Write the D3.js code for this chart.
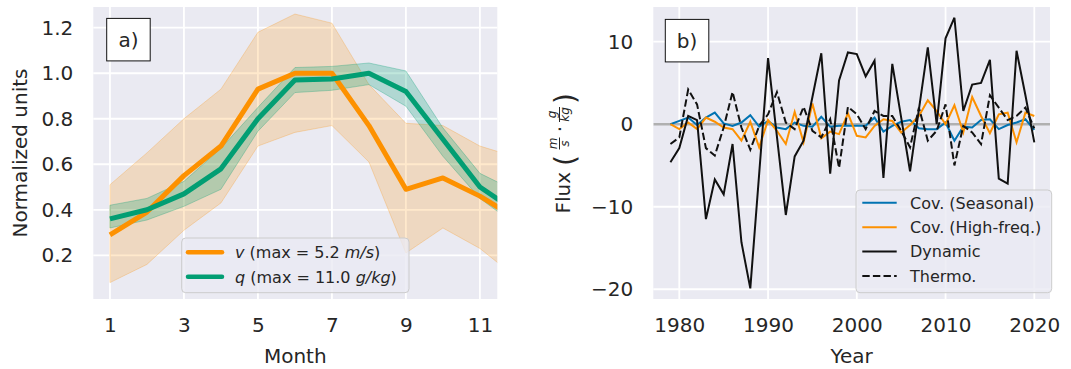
<!DOCTYPE html>
<html>
<head>
<meta charset="utf-8">
<script src="https://cdn.jsdelivr.net/npm/d3@7"></script>
<style>
  body { margin: 0; background: white; }
  text { font-family: "DejaVu Sans", sans-serif; fill: #262626; }
</style>
</head>
<body>
<svg id="chart" width="1071" height="369"></svg>
<script>
// ---- panel a data (normalized seasonal cycle)
var months = [1, 2, 3, 4, 5, 6, 7, 8, 9, 10, 11, 12];
var vMean = [0.29, 0.39, 0.55, 0.68, 0.93, 1.00, 1.00, 0.77, 0.49, 0.54, 0.46, 0.36];
var vLow  = [0.08, 0.16, 0.31, 0.43, 0.68, 0.74, 0.77, 0.61, 0.21, 0.32, 0.23, 0.10];
var vHigh = [0.51, 0.65, 0.80, 0.93, 1.18, 1.26, 1.22, 0.95, 0.78, 0.77, 0.68, 0.63];
var qMean = [0.36, 0.40, 0.47, 0.58, 0.80, 0.97, 0.975, 1.00, 0.92, 0.71, 0.50, 0.39];
var qLow  = [0.32, 0.355, 0.415, 0.49, 0.745, 0.915, 0.925, 0.95, 0.855, 0.635, 0.45, 0.33];
var qHigh = [0.42, 0.45, 0.525, 0.67, 0.85, 1.025, 1.03, 1.045, 1.01, 0.76, 0.56, 0.48];
var monthTicks = [1, 3, 5, 7, 9, 11];
var normTicks = [0.2, 0.4, 0.6, 0.8, 1.0, 1.2];

// ---- panel b data (yearly flux terms)
var years = d3.range(1979, 2021);
var seasonal = [0, 0.4, 0.8, -0.1, 0.8, 1.4, 0.1, -0.2, 0.2, 1.1,
  -0.3, 0.4, -0.4, -0.6, 0.2, -0.2, -0.3, 0.9, -0.3, -0.2,
  -0.2, -0.2, -0.2, 0.8, -0.9, -0.2, 0.3, 0.5, -0.5, -0.6,
  -0.6, 0.2, -2.0, -0.3, -0.4, 0.5, 0.6, -0.6, -0.1, 0.2, 0.6, -0.7];
var highFreq = [0, -0.6, 0.2, -0.6, 0.8, 0.3, -0.4, -0.6, -2.0, 0.3,
  -2.8, 0.5, -0.8, -2.4, 1.5, -2.2, 2.5, -1.7, -0.9, -1.2,
  1.3, -1.4, -1.6, -0.2, 0.6, 0.4, -1.0, -0.1, 1.0, 2.9,
  1.6, 0.0, 2.3, -1.0, 3.3, 1.0, -1.1, 1.2, 1.4, -2.2, 1.4, 1.0];
var dynamic = [-4.6, -2.9, 1.0, 0.5, -11.5, -6.7, -8.5, -2.4, -14.3, -19.9,
  -6.0, 8.0, -1.5, -11.0, -3.9, -2.0, 3.3, 8.6, -6.0, 5.3,
  8.7, 8.5, 5.8, 7.7, -6.5, 7.3, 0.8, -5.7, 1.8, 9.3,
  0.0, 10.4, 12.9, 1.6, 4.8, 5.0, 7.8, -6.6, -7.2, 8.9, 3.5, -2.2];
var thermo = [-2.4, -1.6, 4.2, 2.4, -2.9, -3.8, -0.4, 3.9, -0.4, -3.1,
  -0.2, 1.2, 3.9, 0.2, -0.6, 2.1, -0.8, -1.6, 0.6, -5.3,
  2.1, 1.2, -0.6, 1.6, 1.0, 1.0, -0.8, -2.8, 2.0, -2.0,
  -0.8, 2.4, -5.0, -0.2, -1.0, -2.4, 3.5, 2.0, 0.5, 1.0, 2.0, -0.5];
var yearTicks = [1980, 1990, 2000, 2010, 2020];
var fluxTicks = [-20, -10, 0, 10];

var orange = "#fd9100", green = "#029e73", blue = "#0173b2";
var bg = "#eaeaf2";

var svg = d3.select("#chart");

// panel boxes
var boxA = {x0: 93.3, x1: 497.3, y0: 7, y1: 299};
var boxB = {x0: 653.3, x1: 1050, y0: 7, y1: 299};

var xA = d3.scaleLinear().domain([0.55, 11.47]).range([boxA.x0, boxA.x1]);
var yA = d3.scaleLinear().domain([0.008, 1.291]).range([boxA.y1, boxA.y0]);
var xB = d3.scaleLinear().domain([1977.07, 2021.77]).range([boxB.x0, boxB.x1]);
var yB = d3.scaleLinear().domain([-21.18, 14.2]).range([boxB.y1, boxB.y0]);

// background + grid for a panel
function drawFrame(box, xs, ys, xt, yt, id) {
  svg.append("rect")
    .attr("x", box.x0).attr("y", box.y0)
    .attr("width", box.x1 - box.x0).attr("height", box.y1 - box.y0)
    .style("fill", bg);
  svg.append("clipPath").attr("id", id)
    .append("rect")
    .attr("x", box.x0).attr("y", box.y0)
    .attr("width", box.x1 - box.x0).attr("height", box.y1 - box.y0);
  var grid = svg.append("g");
  grid.selectAll("line.vx").data(xt).enter().append("line")
    .attr("x1", d => xs(d)).attr("x2", d => xs(d))
    .attr("y1", box.y0).attr("y2", box.y1)
    .style("stroke", "white").style("stroke-width", 1.8);
  grid.selectAll("line.hy").data(yt).enter().append("line")
    .attr("y1", d => ys(d)).attr("y2", d => ys(d))
    .attr("x1", box.x0).attr("x2", box.x1)
    .style("stroke", "white").style("stroke-width", 1.8);
}

function drawAxes(box, xs, ys, xt, yt, yfmt) {
  var gx = svg.append("g")
    .attr("transform", "translate(0," + box.y1 + ")")
    .call(d3.axisBottom(xs).tickValues(xt).tickSize(0).tickPadding(19).tickFormat(d3.format("d")));
  var gy = svg.append("g")
    .attr("transform", "translate(" + box.x0 + ",0)")
    .call(d3.axisLeft(ys).tickValues(yt).tickSize(0).tickPadding(20).tickFormat(yfmt));
  [gx, gy].forEach(function(g) {
    g.select(".domain").remove();
    g.selectAll("text")
      .attr("font-family", "DejaVu Sans")
      .attr("font-size", "20px")
      .attr("fill", "#262626");
  });
}

function panelTag(x, y, label) {
  svg.append("rect")
    .attr("x", x).attr("y", y).attr("width", 43.5).attr("height", 42.5)
    .style("fill", "white").style("stroke", "#111").style("stroke-width", 1);
  svg.append("text")
    .attr("x", x + 21.75).attr("y", y + 28.5)
    .attr("text-anchor", "middle")
    .attr("font-size", "20px")
    .text(label);
}

// ================= panel a =================
drawFrame(boxA, xA, yA, monthTicks, normTicks, "clipA");

var plotA = svg.append("g").attr("clip-path", "url(#clipA)");

var band = function(lo, hi) {
  return d3.area()
    .x((d, i) => xA(months[i]))
    .y0((d, i) => yA(lo[i]))
    .y1((d, i) => yA(hi[i]));
};
var lineA = function(vals) {
  return d3.line().x((d, i) => xA(months[i])).y((d, i) => yA(vals[i]));
};

plotA.append("path").datum(months)
  .attr("d", band(vLow, vHigh))
  .style("fill", orange).style("fill-opacity", 0.2)
  .style("stroke", orange).style("stroke-opacity", 0.25).style("stroke-width", 1);
plotA.append("path").datum(months)
  .attr("d", band(qLow, qHigh))
  .style("fill", green).style("fill-opacity", 0.25)
  .style("stroke", green).style("stroke-opacity", 0.3).style("stroke-width", 1);

plotA.append("path").datum(months)
  .attr("d", lineA(vMean))
  .style("fill", "none").style("stroke", orange).style("stroke-width", 5)
  .style("stroke-linejoin", "round").style("stroke-linecap", "butt");
plotA.append("path").datum(months)
  .attr("d", lineA(qMean))
  .style("fill", "none").style("stroke", green).style("stroke-width", 5)
  .style("stroke-linejoin", "round").style("stroke-linecap", "butt");

drawAxes(boxA, xA, yA, monthTicks, normTicks, d3.format(".1f"));
panelTag(106.7, 18.4, "a)");

// legend a
var legA = svg.append("g");
legA.append("rect")
  .attr("x", 181.7).attr("y", 238).attr("width", 227.3).attr("height", 54.7)
  .attr("rx", 4)
  .style("fill", bg).style("fill-opacity", 0.8)
  .style("stroke", "#cccccc").style("stroke-width", 1);
var legAItems = [
  {c: orange, y: 252.3, parts: [["v", true], [" (max = 5.2 ", false], ["m/s", true], [")", false]]},
  {c: green, y: 276.7, parts: [["q", true], [" (max = 11.0 ", false], ["g/kg", true], [")", false]]}
];
legAItems.forEach(function(it) {
  legA.append("line")
    .attr("x1", 188).attr("x2", 222).attr("y1", it.y).attr("y2", it.y)
    .style("stroke", it.c).style("stroke-width", 4.5).style("stroke-linecap", "round");
  var t = legA.append("text").attr("x", 235).attr("y", it.y + 5.8).attr("font-size", "16px");
  it.parts.forEach(function(p) {
    t.append("tspan").text(p[0]).attr("font-style", p[1] ? "italic" : "normal");
  });
});

// axis labels a
svg.append("text")
  .attr("x", xA((0.55 + 11.47) / 2)).attr("y", 363)
  .attr("text-anchor", "middle").attr("font-size", "20px")
  .text("Month");
svg.append("text")
  .attr("transform", "translate(27," + ((boxA.y0 + boxA.y1) / 2) + ") rotate(-90)")
  .attr("text-anchor", "middle").attr("font-size", "20px")
  .text("Normalized units");

// ================= panel b =================
drawFrame(boxB, xB, yB, yearTicks, fluxTicks, "clipB");

var plotB = svg.append("g").attr("clip-path", "url(#clipB)");

plotB.append("line")
  .attr("x1", boxB.x0).attr("x2", boxB.x1)
  .attr("y1", yB(0)).attr("y2", yB(0))
  .style("stroke", "#b0b0b0").style("stroke-width", 2.5);

var series = [
  {name: "Cov. (Seasonal)", vals: seasonal, c: blue, dash: null},
  {name: "Cov. (High-freq.)", vals: highFreq, c: orange, dash: null},
  {name: "Dynamic", vals: dynamic, c: "#111111", dash: null},
  {name: "Thermo.", vals: thermo, c: "#111111", dash: "7.4,3.2"}
];

series.forEach(function(s) {
  plotB.append("path").datum(years)
    .attr("d", d3.line().x((d, i) => xB(years[i])).y((d, i) => yB(s.vals[i])))
    .style("fill", "none").style("stroke", s.c).style("stroke-width", 2)
    .style("stroke-dasharray", s.dash)
    .style("stroke-linejoin", "miter");
});

drawAxes(boxB, xB, yB, yearTicks, fluxTicks, d3.format("d"));
panelTag(665.3, 19.4, "b)");

// legend b
var legB = svg.append("g");
legB.append("rect")
  .attr("x", 856).attr("y", 190).attr("width", 195.7).attr("height", 102.7)
  .attr("rx", 4)
  .style("fill", bg).style("fill-opacity", 0.8)
  .style("stroke", "#cccccc").style("stroke-width", 1);
legB.selectAll("line").data(series).enter().append("line")
  .attr("x1", 862.3).attr("x2", 896.7)
  .attr("y1", (d, i) => 202.8 + i * 24.4).attr("y2", (d, i) => 202.8 + i * 24.4)
  .style("stroke", d => d.c).style("stroke-width", 2)
  .style("stroke-dasharray", d => d.dash);
legB.selectAll("text").data(series).enter().append("text")
  .attr("x", 910).attr("y", (d, i) => 202.8 + i * 24.4 + 5.8)
  .attr("font-size", "16px")
  .text(d => d.name);

// axis labels b
svg.append("text")
  .attr("x", (boxB.x0 + boxB.x1) / 2).attr("y", 363)
  .attr("text-anchor", "middle").attr("font-size", "20px")
  .text("Year");

// Flux (m/s . g/kg) label, rotated, built piece by piece
var fl = svg.append("g")
  .attr("transform", "translate(570," + ((boxB.y0 + boxB.y1) / 2) + ") rotate(-90)");
fl.append("text").attr("x", -60.5).attr("y", 0).attr("font-size", "20px").text("Flux");
fl.append("text").attr("x", -13).attr("y", 5).attr("font-size", "28px").text("(");
fl.append("text").attr("x", 9.5).attr("y", -12.8).attr("text-anchor", "middle")
  .attr("font-size", "12px").attr("font-style", "italic").text("m");
fl.append("line").attr("x1", 3.5).attr("x2", 15.5).attr("y1", -10.5).attr("y2", -10.5)
  .style("stroke", "#262626").style("stroke-width", 1);
fl.append("text").attr("x", 9.5).attr("y", -1.5).attr("text-anchor", "middle")
  .attr("font-size", "12px").attr("font-style", "italic").text("s");
fl.append("text").attr("x", 24).attr("y", -3.5).attr("text-anchor", "middle")
  .attr("font-size", "20px").text("·");
fl.append("text").attr("x", 38.5).attr("y", -14.5).attr("text-anchor", "middle")
  .attr("font-size", "12px").attr("font-style", "italic").text("g");
fl.append("line").attr("x1", 31).attr("x2", 46).attr("y1", -10.5).attr("y2", -10.5)
  .style("stroke", "#262626").style("stroke-width", 1);
fl.append("text").attr("x", 38.5).attr("y", -1.5).attr("text-anchor", "middle")
  .attr("font-size", "12px").attr("font-style", "italic").text("kg");
fl.append("text").attr("x", 49).attr("y", 5).attr("font-size", "28px").text(")");
</script>
</body>
</html>
